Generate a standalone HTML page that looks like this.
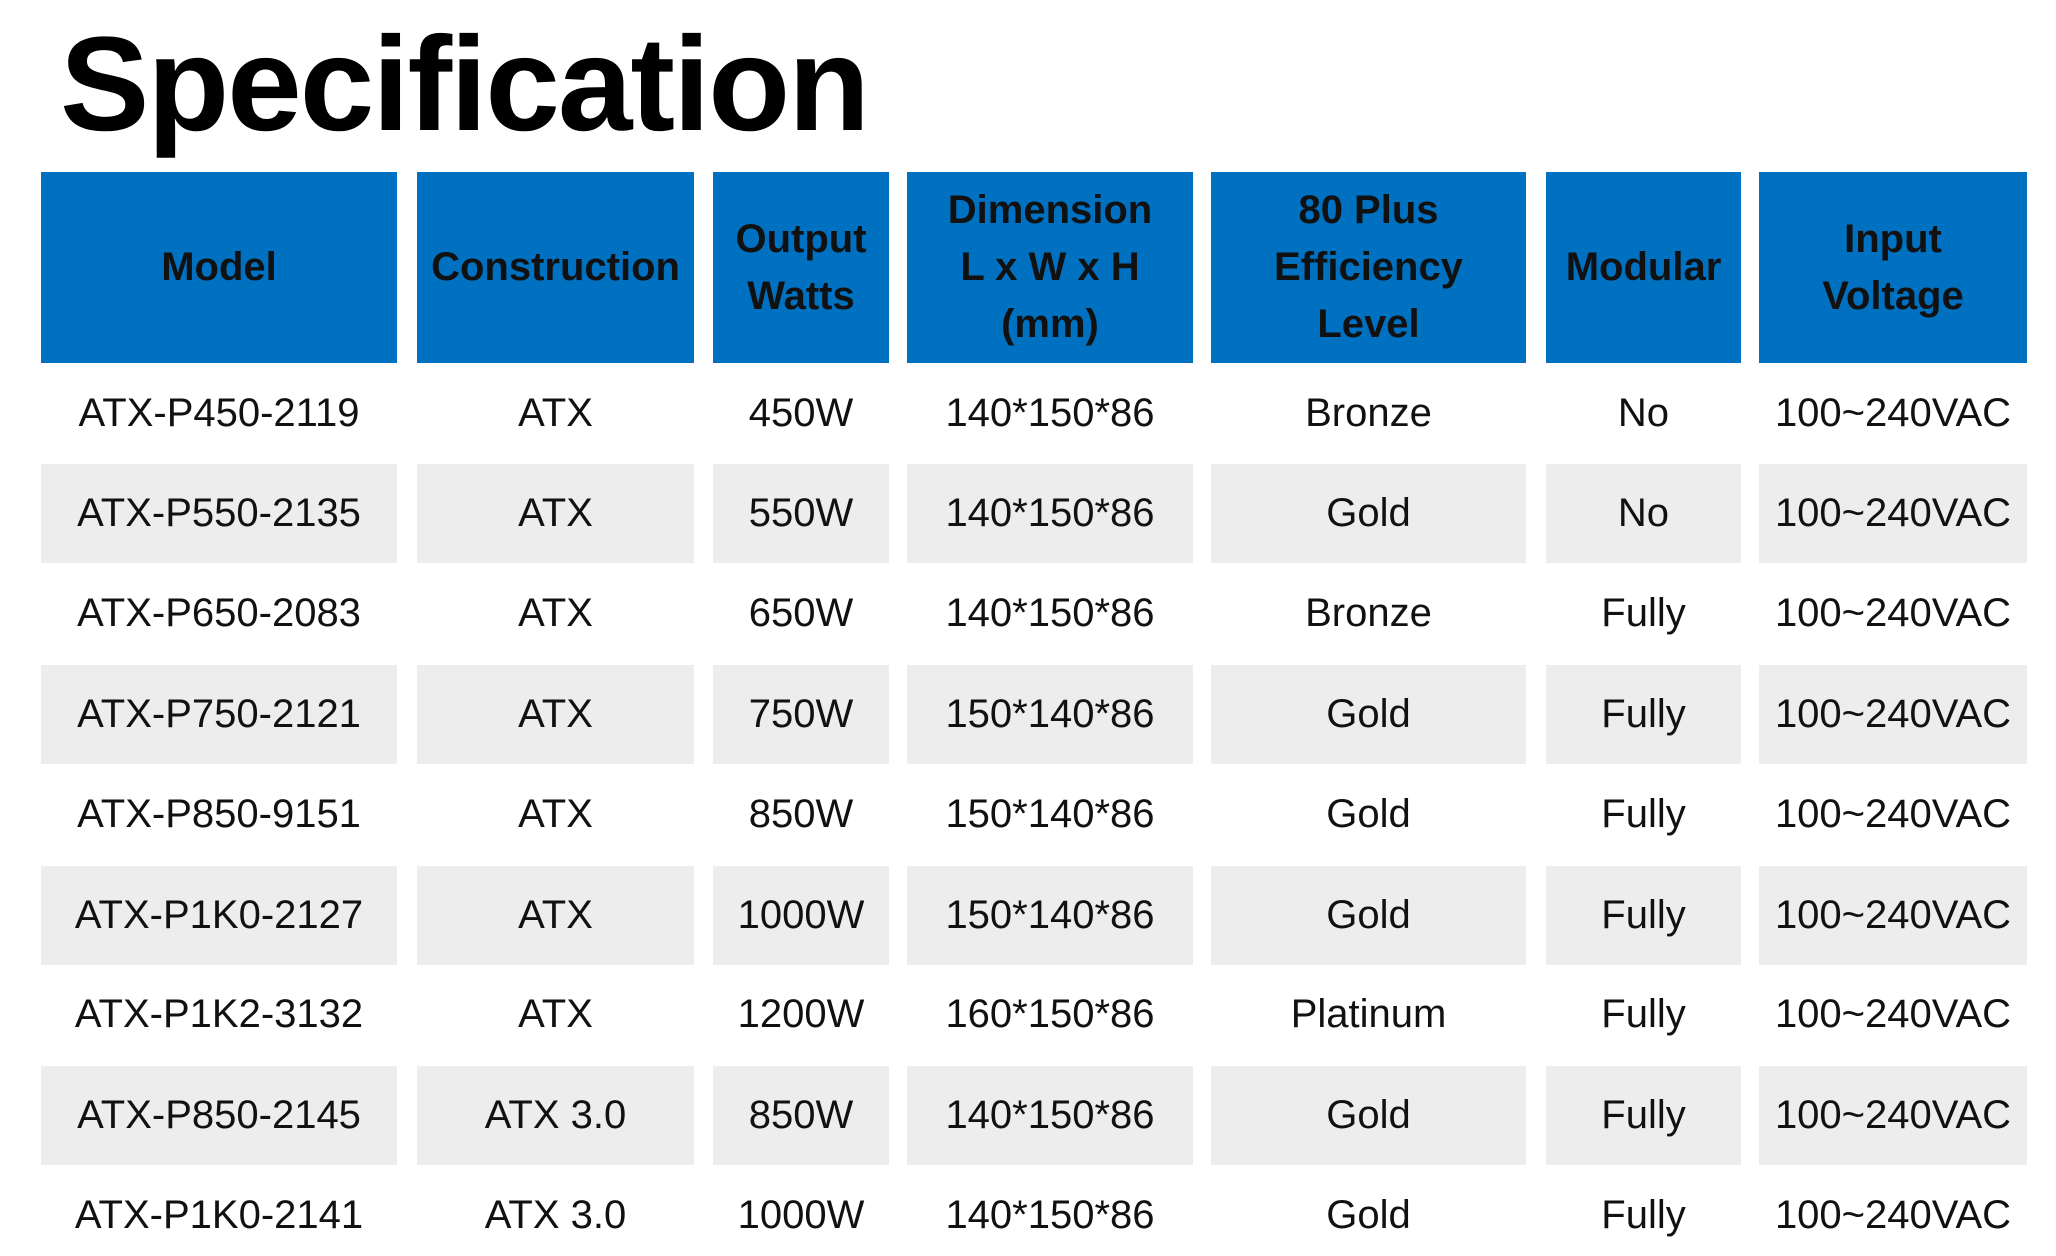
<!DOCTYPE html>
<html><head><meta charset="utf-8"><style>
html,body{margin:0;padding:0;width:2056px;height:1256px;overflow:hidden;background:#fff;}
body{position:relative;font-family:"Liberation Sans",sans-serif;color:#111;}
#title{position:absolute;left:60px;top:0px;font-size:134px;font-weight:bold;line-height:170px;letter-spacing:-2px;color:#000;}
.cell{position:absolute;display:flex;align-items:center;justify-content:center;text-align:center;font-size:40px;white-space:nowrap;}
.hd{background:#0070C0;font-weight:bold;line-height:57px;color:#111;}
.gray{background:#EDEDED;}
</style></head><body>
<div id="title">Specification</div>
<div id="table"></div>
<script>
const colL=[41,417,713,907,1211,1546,1759];
const colR=[397,694,889,1193,1526,1741,2027];
const headers=["Model","Construction","Output<br>Watts","Dimension<br>L x W x H<br>(mm)","80 Plus<br>Efficiency<br>Level","Modular","Input<br>Voltage"];
const headerNames=["model","construction","output-watts","dimension","efficiency","modular","input-voltage"];
const rows=[
["ATX-P450-2119","ATX","450W","140*150*86","Bronze","No","100~240VAC"],
["ATX-P550-2135","ATX","550W","140*150*86","Gold","No","100~240VAC"],
["ATX-P650-2083","ATX","650W","140*150*86","Bronze","Fully","100~240VAC"],
["ATX-P750-2121","ATX","750W","150*140*86","Gold","Fully","100~240VAC"],
["ATX-P850-9151","ATX","850W","150*140*86","Gold","Fully","100~240VAC"],
["ATX-P1K0-2127","ATX","1000W","150*140*86","Gold","Fully","100~240VAC"],
["ATX-P1K2-3132","ATX","1200W","160*150*86","Platinum","Fully","100~240VAC"],
["ATX-P850-2145","ATX 3.0","850W","140*150*86","Gold","Fully","100~240VAC"],
["ATX-P1K0-2141","ATX 3.0","1000W","140*150*86","Gold","Fully","100~240VAC"]
];
const t=document.getElementById('table');
headers.forEach((h,i)=>{
  const d=document.createElement('div');
  d.className='cell hd';
  
  
  d.style.cssText=`left:${colL[i]}px;top:172px;width:${colR[i]-colL[i]}px;height:191px;`;
  d.innerHTML=h;
  t.appendChild(d);
});
rows.forEach((r,ri)=>{
  const top=363+ri*100.3;
  const g=ri%2===1;
  r.forEach((v,ci)=>{
    const d=document.createElement('div');
    d.className='cell'+(g?' gray':'');
    
    
    const y=g?top+1:top;
    d.style.cssText=`left:${colL[ci]}px;top:${y}px;width:${colR[ci]-colL[ci]}px;height:${g?99:100}px;`;
    d.textContent=v;
    t.appendChild(d);
  });
});
</script>
</body></html>
